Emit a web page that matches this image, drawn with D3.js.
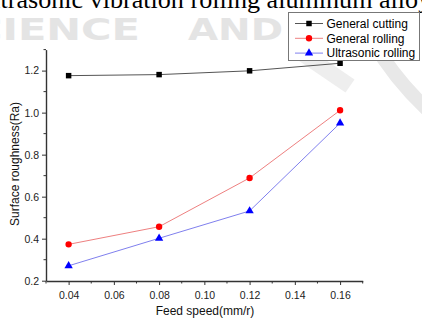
<!DOCTYPE html>
<html><head><meta charset="utf-8">
<script src="https://cdn.jsdelivr.net/npm/d3@7"></script>
<style>html,body{margin:0;padding:0;background:#fff;overflow:hidden}</style>
</head><body>
<svg id="c" width="422" height="321"></svg>
<script>
const feed = [0.04, 0.08, 0.12, 0.16];
const generalCutting = [1.176, 1.181, 1.199, 1.235];
const generalRolling = [0.373, 0.457, 0.689, 1.011];
const ultrasonicRolling = [0.271, 0.402, 0.532, 0.950];
const seriesNames = ["General cutting", "General rolling", "Ultrasonic rolling"];
const xTicks = [0.04, 0.06, 0.08, 0.10, 0.12, 0.14, 0.16];
const yTicks = [0.2, 0.4, 0.6, 0.8, 1.0, 1.2];
const xLabel = "Feed speed(mm/r)";
const yLabel = "Surface roughness(Ra)";
const pageTitle = "Ultrasonic vibration rolling aluminum alloy";
const watermarkWords = ["SCIENCE", "AND"];

const svg = d3.select("#c");
const x = d3.scaleLinear().domain([0.03, 0.17]).range([46, 362.7]);
const y = d3.scaleLinear().domain([0.2, 1.3]).range([280.7, 49.6]);

function measure(txt, fam, size, weight) {
  const n = svg.append("text").text(txt).attr("font-family", fam).attr("font-size", size)
    .attr("font-weight", weight || "normal");
  const w = n.node().getComputedTextLength();
  n.remove();
  return w;
}

// watermark
const wmFs = 31;
[[watermarkWords[0], -58, 198], [watermarkWords[1], 188, 95]].forEach(([w, wx, wl]) => {
  svg.append("text").text(w).attr("x", wx).attr("y", 40)
    .attr("font-family", "DejaVu Sans").attr("font-weight", "bold")
    .attr("font-size", wmFs).attr("fill", "#e4e4e4")
    .attr("textLength", wl).attr("lengthAdjust", "spacingAndGlyphs");
});
svg.append("path").attr("d", "M372,40 Q395,80 430,112").attr("fill", "none")
  .attr("stroke", "#e8e8e8").attr("stroke-width", 14);
svg.append("path").attr("d", "M300,52 L350,86").attr("fill", "none")
  .attr("stroke", "#eeeeee").attr("stroke-width", 16);

// page title (cut off)
const wFull = measure("trasonic vibration rolling aluminum allo", "Liberation Serif", 100);
const fs = 100 * 418 / wFull;
const wUl = measure("Ul", "Liberation Serif", fs);
svg.append("text").text(pageTitle).attr("x", -wUl + 0.5).attr("y", 7.5)
  .attr("font-family", "Liberation Serif").attr("font-size", fs).attr("fill", "#000");

// axes
const axCol = "#333";
const xAxis = d3.axisBottom(x).tickValues(xTicks).tickFormat(d3.format(".2f")).tickSize(4).tickSizeOuter(0);
const gx = svg.append("g").attr("transform", "translate(0,281)").call(xAxis);
const xMinor = d3.range(0.03, 0.1701, 0.01).filter(v => !xTicks.some(t => Math.abs(t - v) < 1e-6));
gx.selectAll(".minor").data(xMinor).enter().append("line").attr("class", "minor")
  .attr("x1", d => x(d)).attr("x2", d => x(d)).attr("y1", 0).attr("y2", 2.5).attr("stroke", axCol);

const yAxis = d3.axisLeft(y).tickValues(yTicks).tickFormat(d3.format(".1f")).tickSize(4).tickSizeOuter(0);
const gy = svg.append("g").attr("transform", "translate(46,0)").call(yAxis);
const yMinor = d3.range(0.3, 1.301, 0.2);
gy.selectAll(".minor").data(yMinor).enter().append("line").attr("class", "minor")
  .attr("y1", d => y(d)).attr("y2", d => y(d)).attr("x1", 0).attr("x2", -2.5).attr("stroke", axCol);

[gx, gy].forEach(g => {
  g.select(".domain").attr("stroke", axCol).attr("stroke-width", 1.4);
  g.selectAll(".tick line").attr("stroke", axCol);
  g.selectAll(".tick text").attr("font-family", "Liberation Sans").attr("font-size", 10.5).attr("fill", "#222");
});
gx.selectAll(".tick text").attr("dy", "1.05em");

svg.append("text").text(xLabel).attr("x", 205).attr("y", 315).attr("text-anchor", "middle")
  .attr("font-family", "Liberation Sans").attr("font-size", 12).attr("fill", "#111");
svg.append("text").text(yLabel).attr("transform", "translate(19,164) rotate(-90)").attr("text-anchor", "middle")
  .attr("font-family", "Liberation Sans").attr("font-size", 12).attr("fill", "#111");

// series
const series = [
  {name: seriesNames[0], vals: generalCutting, line: "#555", fill: "#000", sym: d3.symbolSquare, size: 30},
  {name: seriesNames[1], vals: generalRolling, line: "#ee8080", fill: "#f00", sym: d3.symbolCircle, size: 32},
  {name: seriesNames[2], vals: ultrasonicRolling, line: "#8080ee", fill: "#00f", sym: d3.symbolTriangle, size: 30},
];
const line = d3.line().x((d, i) => x(feed[i])).y(d => y(d));
series.forEach(s => {
  svg.append("path").datum(s.vals).attr("d", line).attr("fill", "none")
    .attr("stroke", s.line).attr("stroke-width", 1);
  svg.selectAll(null).data(s.vals).enter().append("path")
    .attr("d", d3.symbol().type(s.sym).size(s.size))
    .attr("transform", (d, i) => `translate(${x(feed[i])},${y(d)})`).attr("fill", s.fill);
});

// legend
const lg = svg.append("g");
lg.append("rect").attr("x", 288.5).attr("y", 12.5).attr("width", 131).attr("height", 48)
  .attr("fill", "#fff").attr("stroke", "#777").attr("stroke-width", 1);
series.forEach((s, i) => {
  const ly = 23.5 + i * 14.8;
  lg.append("line").attr("x1", 295).attr("x2", 323).attr("y1", ly).attr("y2", ly)
    .attr("stroke", s.line).attr("stroke-width", 1);
  lg.append("path").attr("d", d3.symbol().type(s.sym).size(s.size))
    .attr("transform", `translate(309,${ly})`).attr("fill", s.fill);
  lg.append("text").text(s.name).attr("x", 326.5).attr("y", ly + 4.3)
    .attr("font-family", "Liberation Sans").attr("font-size", 12).attr("fill", "#000");
});
</script>
</body></html>
